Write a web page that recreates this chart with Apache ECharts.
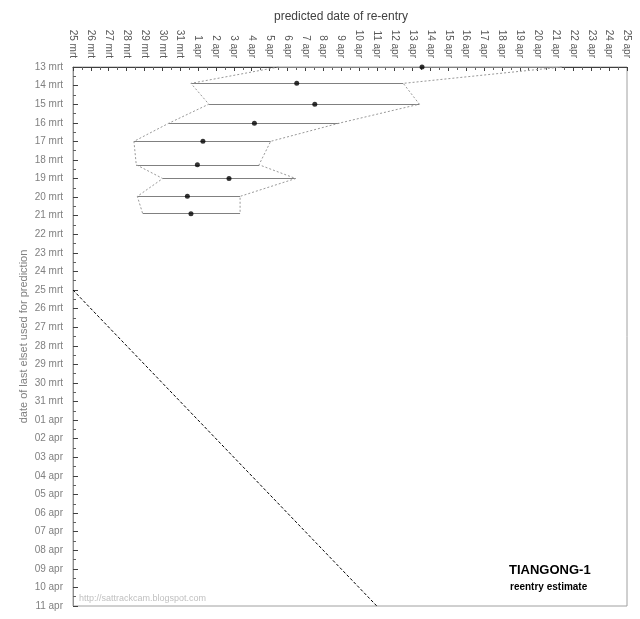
<!DOCTYPE html>
<html>
<head>
<meta charset="utf-8">
<script src="https://cdn.jsdelivr.net/npm/echarts@6/dist/echarts.min.js"></script>
<style>
html,body{margin:0;padding:0;background:#fff;}
#chart{width:640px;height:619px;}
</style>
</head>
<body>
<div id="chart"></div>
<script>
// day numbers counted from 1 March (32 = 1 apr)
const epochDays     = [13.0, 13.88, 15.0, 16.02, 17.0, 18.26, 19.0, 19.96, 20.89];
const earliestDays  = [36.5, 31.6, 32.6, 30.37, 28.41, 28.54, 30.02, 28.6, 28.9];
const latestDays    = [52.35, 43.48, 44.38, 39.9, 36.06, 35.41, 37.46, 34.35, 34.35];
const predictedDays = [44.53, 37.52, 38.53, 35.15, 32.27, 31.96, 33.73, 31.4, 31.6];
const diagonalDays  = [25, 42]; // reference line: prediction date = elset date
const xRange = [25, 56];
const yRange = [13, 42];
const marchDays = 31;

function xLabel(v){ return v <= marchDays ? v + ' mrt' : (v - marchDays) + ' apr'; }
function yLabel(v){
  if (v <= marchDays) return v + ' mrt';
  const d = v - marchDays;
  return (d < 10 ? '0' + d : d) + ' apr';
}

const FONT = 'Liberation Sans';
const rangeLines = epochDays.map((e, i) => ({coords: [[earliestDays[i], e], [latestDays[i], e]]}));
const earliestPts = epochDays.map((e, i) => [earliestDays[i], e]);
const latestPts = epochDays.map((e, i) => [latestDays[i], e]);
const predictedPts = epochDays.map((e, i) => [predictedDays[i], e]);
const diagPts = diagonalDays.map(d => [d, d]);

const chart = echarts.init(document.getElementById('chart'), null, {renderer: 'canvas'});
chart.setOption({
  animation: false,
  backgroundColor: '#ffffff',
  textStyle: {fontFamily: FONT},
  grid: {left: 73, right: 13, top: 67, bottom: 13, show: true, borderColor: '#a0a0a0', borderWidth: 1, backgroundColor: 'transparent'},
  xAxis: {
    type: 'value', position: 'top', min: xRange[0], max: xRange[1], interval: 1,
    name: 'predicted date of re-entry', nameLocation: 'middle', nameGap: 44,
    nameMoveOverlap: false,
    nameTextStyle: {color: '#404040', fontSize: 12, fontFamily: FONT, padding: [0, 18, 0, 0]},
    axisLine: {show: true, lineStyle: {color: '#404040', width: 1}},
    axisTick: {show: true, inside: true, length: 4, lineStyle: {color: '#404040'}},
    minorTick: {show: true, splitNumber: 2, length: 3, lineStyle: {color: '#606060'}},
    splitLine: {show: false},
    axisLabel: {rotate: 90, margin: 9, color: '#595959', fontSize: 10, fontFamily: FONT, formatter: xLabel}
  },
  yAxis: {
    type: 'value', inverse: true, min: yRange[0], max: yRange[1], interval: 1,
    name: 'date of last elset used for prediction', nameLocation: 'middle', nameGap: 44, nameRotate: 90,
    nameMoveOverlap: false,
    nameTextStyle: {color: '#808080', fontSize: 11, fontFamily: FONT},
    axisLine: {show: true, lineStyle: {color: '#909090', width: 1}},
    axisTick: {show: true, inside: true, length: 5, lineStyle: {color: '#404040'}},
    minorTick: {show: true, splitNumber: 2, length: 3, lineStyle: {color: '#606060'}},
    splitLine: {show: false},
    axisLabel: {margin: 10, color: '#808080', fontSize: 10, fontFamily: FONT, formatter: yLabel}
  },
  series: [
    {
      type: 'line', data: diagPts, symbol: 'none', silent: true,
      lineStyle: {color: '#000000', width: 1, type: [3, 2]}
    },
    {
      type: 'line', data: earliestPts, symbol: 'none', silent: true, clip: false,
      lineStyle: {color: '#999999', width: 1, type: [2, 2]}
    },
    {
      type: 'line', data: latestPts, symbol: 'none', silent: true, clip: false,
      lineStyle: {color: '#999999', width: 1, type: [2, 2]}
    },
    {
      type: 'lines', coordinateSystem: 'cartesian2d', data: rangeLines, silent: true,
      lineStyle: {color: '#808080', width: 1, opacity: 1}
    },
    {
      type: 'scatter', data: predictedPts, symbol: 'circle', symbolSize: 5, clip: false,
      itemStyle: {color: '#000000'}, z: 5
    }
  ],
  graphic: [
    {type: 'text', left: 509, top: 564, style: {text: 'TIANGONG-1', font: 'bold 13px "Liberation Sans"', fill: '#000000'}},
    {type: 'text', left: 510, top: 582, style: {text: 'reentry estimate', font: 'bold 10px "Liberation Sans"', fill: '#000000'}},
    {type: 'text', left: 79, top: 594, style: {text: 'http://sattrackcam.blogspot.com', font: '9px "Liberation Sans"', fill: '#c0c0c0'}}
  ]
});
</script>
</body>
</html>
